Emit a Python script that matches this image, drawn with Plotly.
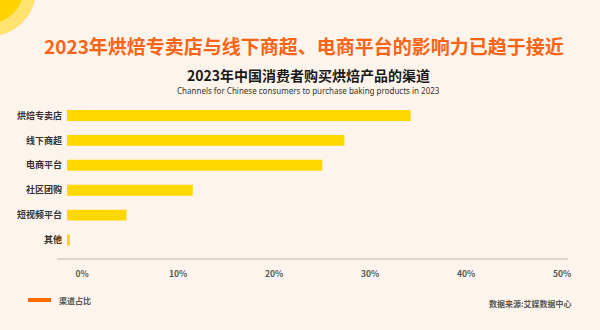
import plotly.graph_objects as go

# Channel shares (%), listed bottom-to-top as drawn on the category axis
channels = ["其他", "短视频平台", "社区团购", "电商平台", "线下商超", "烘焙专卖店"]
shares = [0.3, 6.2, 13.1, 26.6, 28.9, 35.8]
x_ticks = [0, 10, 20, 30, 40, 50]
x_tick_labels = ["0%", "10%", "20%", "30%", "40%", "50%"]

W, H = 600, 330
ML, MR, MT, MB = 67, 32, 103, 71
PW, PH = W - ML - MR, H - MT - MB

def px(x):
    return (x - ML) / PW

def py(y):
    return (H - MB - y) / PH

BG = "#fdf5ec"
FONT = "Noto Sans CJK SC"

fig = go.Figure()
fig.add_trace(go.Bar(
    x=shares, y=channels, orientation="h",
    marker=dict(color="#ffd800", line=dict(width=0)),
    showlegend=False, hoverinfo="x+y",
))

shapes = [
    # decorative corner circles
    dict(type="circle", xref="paper", yref="paper",
         x0=px(-56), x1=px(36), y0=py(-56), y1=py(36),
         fillcolor="#ffe36e", line=dict(width=0), layer="below"),
    dict(type="circle", xref="paper", yref="paper",
         x0=px(-43), x1=px(23), y0=py(-43), y1=py(23),
         fillcolor="#ffd200", line=dict(width=0), layer="below"),
    # baseline of the value axis
    dict(type="line", xref="paper", yref="paper",
         x0=px(57), x1=px(568), y0=py(259), y1=py(259),
         line=dict(color="#dcd6cc", width=2)),
    # legend swatch
    dict(type="line", xref="paper", yref="paper",
         x0=px(28), x1=px(51), y0=py(300), y1=py(300),
         line=dict(color="#ff6a00", width=4)),
]

annotations = [
    dict(text="<b>2023年烘焙专卖店与线下商超、电商平台的影响力已趋于接近</b>",
         x=px(304), y=py(46), xref="paper", yref="paper", showarrow=False,
         xanchor="center", yanchor="middle",
         font=dict(family=FONT, size=19, color="#fa6416")),
    dict(text="<b>2023年中国消费者购买烘焙产品的渠道</b>",
         x=px(308), y=py(74.5), xref="paper", yref="paper", showarrow=False,
         xanchor="center", yanchor="middle",
         font=dict(family=FONT, size=14, color="#1a1a1a")),
    dict(text="Channels for Chinese consumers to purchase baking products in 2023",
         x=px(308), y=py(90), xref="paper", yref="paper", showarrow=False,
         xanchor="center", yanchor="middle",
         font=dict(family="Noto Sans", size=8, color="#333333")),
    dict(text="<b>渠道占比</b>",
         x=px(57), y=py(300), xref="paper", yref="paper", showarrow=False,
         xanchor="left", yanchor="middle",
         font=dict(family=FONT, size=8, color="#555555")),
    dict(text="<b>数据来源:艾媒数据中心</b>",
         x=px(574), y=py(303), xref="paper", yref="paper", showarrow=False,
         xanchor="right", yanchor="middle",
         font=dict(family=FONT, size=8, color="#555555")),
]

fig.update_layout(
    width=W, height=H,
    margin=dict(l=ML, r=MR, t=MT, b=MB, pad=0),
    paper_bgcolor=BG, plot_bgcolor=BG,
    bargap=0.56,
    shapes=shapes, annotations=annotations,
    xaxis=dict(
        range=[0, PW / 9.6], tickvals=x_ticks, ticktext=x_tick_labels,
        showgrid=False, zeroline=False, showline=False, ticks="",
        ticklabelshift=15, ticklabelstandoff=8,
        tickfont=dict(family=FONT, size=8.5, color="#555555", weight="bold"),
        fixedrange=True,
    ),
    yaxis=dict(
        range=[-0.76, 5.5], showgrid=False, zeroline=False, showline=False,
        ticks="", ticklabelstandoff=4,
        tickfont=dict(family=FONT, size=9, color="#333333", weight="bold"),
        fixedrange=True,
    ),
)

fig.write_html("out.html")
